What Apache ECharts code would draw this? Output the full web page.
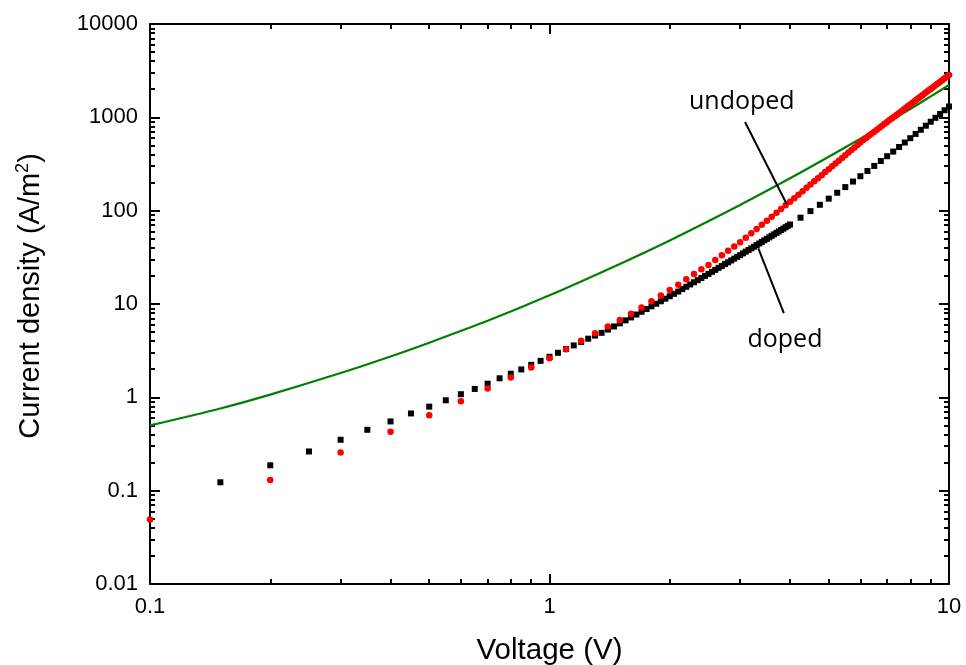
<!DOCTYPE html>
<html>
<head>
<meta charset="utf-8">
<script src="https://cdn.jsdelivr.net/npm/echarts@6/dist/echarts.min.js"></script>
<style>
html,body{margin:0;padding:0;background:#fff;}
#chart{width:966px;height:665px;}
</style>
</head>
<body>
<div id="chart"></div>
<script>
// ---- data ----
const dopedV = [0.15,0.2,0.25,0.3,0.35,0.4,0.45,0.5,0.55,0.6,0.65,0.7,0.75,0.8,0.85,0.9,0.95,1.0,1.05,1.1,1.15,1.2,1.25,1.3,1.35,1.4,1.45,1.5,1.55,1.6,1.65,1.7,1.75,1.8,1.85,1.9,1.95,2.0,2.05,2.1,2.15,2.2,2.25,2.3,2.35,2.4,2.45,2.5,2.55,2.6,2.65,2.7,2.75,2.8,2.85,2.9,2.95,3.0,3.05,3.1,3.15,3.2,3.25,3.3,3.35,3.4,3.45,3.5,3.55,3.6,3.65,3.7,3.75,3.8,3.85,3.9,3.95,4.0,4.25,4.5,4.75,5.0,5.25,5.5,5.75,6.0,6.25,6.5,6.75,7.0,7.25,7.5,7.75,8.0,8.25,8.5,8.75,9.0,9.25,9.5,9.75,10.0];
const dopedJ = [0.123,0.187,0.263,0.351,0.449,0.552,0.672,0.795,0.93,1.08,1.23,1.40,1.60,1.79,1.99,2.23,2.46,2.72,3.0,3.29,3.60,3.92,4.25,4.59,4.91,5.32,5.75,6.2,6.68,7.18,7.71,8.26,8.83,9.44,10.07,10.7,11.4,12.1,12.85,13.6,14.45,15.3,16.2,17.1,18.0,19.0,20.0,21.0,22.1,23.2,24.4,25.5,26.8,28.0,29.3,30.6,32.0,33.4,34.9,36.4,37.9,39.5,41.1,42.8,44.5,46.3,48.1,49.9,51.8,53.8,55.8,57.8,59.9,62.0,64.2,66.5,68.8,71.1,84.1,98.9,115.6,134.5,155.5,178.9,205.1,234.1,266.1,301.5,340.3,383.1,429.8,481.3,537.0,597.9,664.0,735.5,813.2,897.1,987.4,1085,1191,1306];

const undopedV = [0.1,0.2,0.3,0.4,0.5,0.6,0.7,0.8,0.9,1.0,1.1,1.2,1.3,1.4,1.5,1.6,1.7,1.8,1.9,2.0,2.1,2.2,2.3,2.4,2.5,2.6,2.7,2.8,2.9,3.0,3.1,3.2,3.3,3.4,3.5,3.6,3.7,3.8,3.9,4.0,4.1,4.2,4.3,4.4,4.5,4.6,4.7,4.8,4.9,5.0,5.1,5.2,5.3,5.4,5.5,5.6,5.7,5.8,5.9,6.0,6.1,6.2,6.3,6.4,6.5,6.6,6.7,6.8,6.9,7.0,7.1,7.2,7.3,7.4,7.5,7.6,7.7,7.8,7.9,8.0,8.1,8.2,8.3,8.4,8.5,8.6,8.7,8.8,8.9,9.0,9.1,9.2,9.3,9.4,9.5,9.6,9.7,9.8,9.9,10.0];
const undopedJ = [0.049,0.13,0.256,0.427,0.644,0.91,1.24,1.63,2.09,2.63,3.27,4.03,4.85,5.75,6.75,7.88,9.2,10.7,12.3,14.1,16.1,18.4,20.9,23.5,26.2,29.6,33.2,37.1,41.3,45.8,51.3,57.2,63.6,70.5,77.9,86.0,94.7,104.0,114.0,124.4,136.0,148.3,161.6,175.6,190.3,206.1,222.7,240.1,258.8,278.4,299.0,320.6,343.6,367.4,392.6,419.0,446.6,475.3,505.8,537.4,571.5,601.7,633.5,667.1,701.3,736.8,774.0,812.0,851.1,892.1,934.4,977.2,1022,1068,1116,1165,1216,1268,1321,1376,1432,1491,1550,1612,1675,1740,1806,1875,1945,2016,2089,2165,2243,2321,2403,2487,2572,2658,2747,2838];

const fitV = [0.1,0.15,0.2,0.3,0.4,0.5,0.7,1,1.5,2,3,4,5,6,7,8,9,10];
const fitJ = [0.50,0.76,1.07,1.82,2.74,3.85,6.6,12.4,26.9,48,115,222,378,592,873,1230,1675,2218];

// tick values and labels
const xMajorTicks = [0.1, 1, 10];
const xTickLabels = ['0.1', '1', '10'];
const xMinorTicks = [0.2,0.3,0.4,0.5,0.6,0.7,0.8,0.9,2,3,4,5,6,7,8,9];
const yMajorTicks = [0.01, 0.1, 1, 10, 100, 1000, 10000];
const yTickLabels = ['0.01','0.1','1','10','100','1000','10000'];
const yMinorTicks = [0.02,0.03,0.04,0.05,0.06,0.07,0.08,0.09,0.2,0.3,0.4,0.5,0.6,0.7,0.8,0.9,2,3,4,5,6,7,8,9,20,30,40,50,60,70,80,90,200,300,400,500,600,700,800,900,2000,3000,4000,5000,6000,7000,8000,9000];

// annotation (data coordinates)
const undopedPointer = [[3.086, 891], [3.924, 117.8]];
const dopedPointer = [[3.332, 39.4], [3.86, 7.99]];
const annotations = [
  {name: 'undoped', value: [3.03, 1459]},
  {name: 'doped', value: [3.885, 4.1]}
];

const FONT = '"Liberation Sans", Arial, sans-serif';

function zipXY(xs, ys) { return xs.map((x, i) => [x, ys[i]]); }

function xAxisDef(pos, ticks, len, withLabels, withLine) {
  const a = {
    type: 'log', logBase: 10, min: 0.1, max: 10, position: pos, gridIndex: 0,
    axisLine: {show: withLine, lineStyle: {color: '#000', width: 2}},
    axisTick: {show: true, inside: true, length: len, customValues: ticks, lineStyle: {color: '#000', width: 2}},
    axisLabel: {show: false},
    splitLine: {show: false}, minorTick: {show: false}, minorSplitLine: {show: false}
  };
  if (withLabels) {
    a.axisLabel = {
      show: true, customValues: xMajorTicks, margin: 12, fontSize: 22, color: '#000', fontFamily: FONT,
      formatter: v => xTickLabels[Math.round(Math.log10(v)) + 1]
    };
    a.name = 'Voltage (V)';
    a.nameLocation = 'middle';
    a.nameGap = 52;
    a.nameTextStyle = {fontSize: 29.5, color: '#000', fontFamily: FONT};
  }
  return a;
}
function yAxisDef(pos, ticks, len, withLabels, withLine) {
  const a = {
    type: 'log', logBase: 10, min: 0.01, max: 10000, position: pos, gridIndex: 0,
    axisLine: {show: withLine, lineStyle: {color: '#000', width: 2}},
    axisTick: {show: true, inside: true, length: len, customValues: ticks, lineStyle: {color: '#000', width: 2}},
    axisLabel: {show: false},
    splitLine: {show: false}, minorTick: {show: false}, minorSplitLine: {show: false}
  };
  if (withLabels) {
    a.axisLabel = {
      show: true, customValues: yMajorTicks, margin: 12, fontSize: 22, color: '#000', fontFamily: FONT,
      formatter: v => yTickLabels[Math.round(Math.log10(v)) + 2]
    };
    a.name = '{t|Current density (A/m}{s|2}{t|)}';
    a.nameLocation = 'middle';
    a.nameGap = 102;
    a.nameTextStyle = {
      color: '#000', fontFamily: FONT, padding: [0, 0, 0, 16],
      rich: {
        t: {fontSize: 29, color: '#000', fontFamily: FONT, lineHeight: 34},
        s: {fontSize: 18, color: '#000', fontFamily: FONT, verticalAlign: 'top', lineHeight: 34}
      }
    };
  }
  return a;
}

const chart = echarts.init(document.getElementById('chart'), null, {renderer: 'canvas'});
chart.setOption({
  animation: false,
  backgroundColor: '#fff',
  grid: {left: 150, top: 24, width: 799, height: 560, containLabel: false, outerBoundsMode: 'none'},
  xAxis: [
    xAxisDef('bottom', xMajorTicks, 10, true, true),
    xAxisDef('bottom', xMinorTicks, 5, false, false),
    xAxisDef('top', xMajorTicks, 10, false, true),
    xAxisDef('top', xMinorTicks, 5, false, false)
  ],
  yAxis: [
    yAxisDef('left', yMajorTicks, 10, true, true),
    yAxisDef('left', yMinorTicks, 5, false, false),
    yAxisDef('right', yMajorTicks, 10, false, true),
    yAxisDef('right', yMinorTicks, 5, false, false)
  ],
  series: [
    {
      name: 'fit', type: 'line', xAxisIndex: 0, yAxisIndex: 0,
      data: zipXY(fitV, fitJ), smooth: 0.3, showSymbol: false, symbol: 'none',
      lineStyle: {color: '#008000', width: 2.2}, z: 2
    },
    {
      name: 'doped', type: 'scatter', xAxisIndex: 0, yAxisIndex: 0,
      data: zipXY(dopedV, dopedJ), symbol: 'rect', symbolSize: 6,
      itemStyle: {color: '#000', opacity: 1}, z: 3
    },
    {
      name: 'undoped', type: 'scatter', xAxisIndex: 0, yAxisIndex: 0,
      data: zipXY(undopedV, undopedJ), symbol: 'circle', symbolSize: 6.5,
      itemStyle: {color: '#ff0000', opacity: 1}, z: 4
    },
    {
      type: 'line', xAxisIndex: 0, yAxisIndex: 0, data: undopedPointer, symbol: 'none',
      lineStyle: {color: '#000', width: 2}, z: 5, silent: true
    },
    {
      type: 'line', xAxisIndex: 0, yAxisIndex: 0, data: dopedPointer, symbol: 'none',
      lineStyle: {color: '#000', width: 2}, z: 5, silent: true
    },
    {
      type: 'scatter', xAxisIndex: 0, yAxisIndex: 0, data: annotations, symbolSize: 0,
      itemStyle: {opacity: 1},
      label: {show: true, position: 'inside', formatter: p => p.name, fontSize: 25, color: '#000',
              fontFamily: '"Open Sans", "Noto Sans", sans-serif'},
      z: 6, silent: true
    }
  ]
});
</script>
</body>
</html>
